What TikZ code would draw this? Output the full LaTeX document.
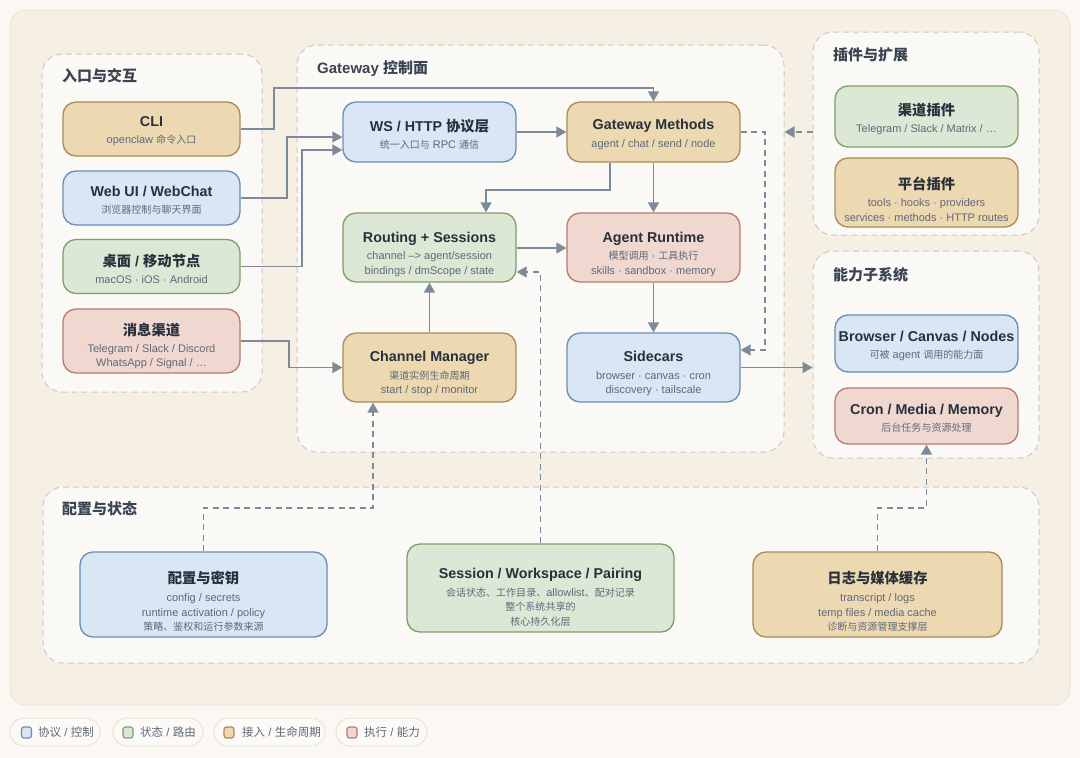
\documentclass[tikz,border=0pt]{standalone}
\usepackage{fontspec}
\setmainfont{Liberation Sans}
\newfontfamily\cjk{Noto Sans CJK SC}
\newfontfamily\cjks{Noto Sans CJK SC}[Scale=0.91]
\usetikzlibrary{arrows.meta}
\newcommand\zh[1]{{\cjk #1}}
\newcommand\zs[1]{{\cjks #1}}
\newcommand\ttl[1]{{\fontsize{14.3}{14.3}\selectfont\bfseries\color{ttlC}#1}}

\definecolor{pageBg}{HTML}{FBF8F3}
\definecolor{panelBg}{HTML}{F6EFE4}
\definecolor{panelLn}{HTML}{EDE5D9}
\definecolor{grpBg}{HTML}{FBF9F5}
\definecolor{grpLn}{HTML}{C9C9C7}
\definecolor{fBlue}{HTML}{D9E6F3}
\definecolor{lBlue}{HTML}{6B8DB5}
\definecolor{fGreen}{HTML}{DCE8D5}
\definecolor{lGreen}{HTML}{7C9F6B}
\definecolor{fTan}{HTML}{EDD9B1}
\definecolor{lTan}{HTML}{A88B57}
\definecolor{fRed}{HTML}{F0D8D1}
\definecolor{lRed}{HTML}{B67B6C}
\definecolor{arrC}{HTML}{7D8A99}
\definecolor{ttlC}{HTML}{27303C}
\definecolor{subC}{HTML}{5F6978}
\definecolor{grpT}{HTML}{3B4452}
\definecolor{pillBg}{HTML}{FCFAF6}
\definecolor{pillLn}{HTML}{EAE3D8}

\tikzset{
  box/.style={rectangle, rounded corners=13pt, line width=1.3pt, inner sep=0pt},
  bluebox/.style={box, draw=lBlue, fill=fBlue},
  greenbox/.style={box, draw=lGreen, fill=fGreen},
  tanbox/.style={box, draw=lTan, fill=fTan},
  redbox/.style={box, draw=lRed, fill=fRed},
  grp/.style={rectangle, draw=grpLn, fill=grpBg, line width=1pt,
    dash pattern=on 6pt off 4pt, rounded corners=20pt, inner sep=0pt},
  gtitle/.style={anchor=west, inner sep=0pt, text=grpT,
    font=\fontsize{15}{15}\selectfont\bfseries},
  txt/.style={align=center, inner sep=0pt, text=subC,
    font=\fontsize{11}{14.5}\selectfont},
  arr/.style={draw=arrC, line width=1.4pt, -{Triangle[length=10pt,width=11pt]}},
  darr/.style={arr, dash pattern=on 6pt off 4.5pt},
  pill/.style={rectangle, rounded corners=14pt, draw=pillLn, fill=pillBg,
    line width=1pt, inner sep=0pt, minimum height=28pt},
  icon/.style={rectangle, rounded corners=2.5pt, line width=1.2pt,
    minimum width=10pt, minimum height=11pt, inner sep=0pt},
  legtxt/.style={anchor=west, inner sep=0pt, text=subC,
    font=\fontsize{11.5}{11.5}\selectfont},
}

\begin{document}
\begin{tikzpicture}[x=1pt,y=-1pt]
\fill[pageBg] (0,0) rectangle (1080,758);
\useasboundingbox (0,0) rectangle (1080,758);

% outer panel
\node[rectangle, rounded corners=16pt, draw=panelLn, fill=panelBg, line width=1pt,
      inner sep=0pt, minimum width=1060pt, minimum height=695pt] (panel) at (540,357.5) {};

% groups
\node[grp, minimum width=220pt, minimum height=338pt] (entry) at (152,223) {};
\node[gtitle] (entry-t) at (62,76) {\zh{入口与交互}};
\node[grp, minimum width=487pt, minimum height=407pt] (gw) at (540.5,248.5) {};
\node[gtitle] (gw-t) at (317,69) {Gateway \zh{控制面}};
\node[grp, minimum width=226pt, minimum height=203pt] (plg) at (926,133.5) {};
\node[gtitle] (plg-t) at (833,55) {\zh{插件与扩展}};
\node[grp, minimum width=226pt, minimum height=207pt] (cap) at (926,354.5) {};
\node[gtitle] (cap-t) at (833,275) {\zh{能力子系统}};
\node[grp, minimum width=996pt, minimum height=176pt] (store) at (541,575) {};
\node[gtitle] (store-t) at (62,509) {\zh{配置与状态}};

% entry points
\node[tanbox, minimum width=177pt, minimum height=54pt] (cli) at (151.5,129) {};
\node[txt] (cli-t) at ([yshift=-2.5pt]cli.center) {\ttl{CLI}\\[2.5pt]openclaw \zs{命令入口}};
\node[bluebox, minimum width=177pt, minimum height=54pt] (web) at (151.5,198) {};
\node[txt] (web-t) at ([yshift=-2.5pt]web.center) {\ttl{Web UI / WebChat}\\[2.5pt]\zs{浏览器控制与聊天界面}};
\node[greenbox, minimum width=177pt, minimum height=54pt] (desk) at (151.5,266.5) {};
\node[txt] (desk-t) at ([yshift=-2.5pt]desk.center) {\ttl{\zh{桌面} / \zh{移动节点}}\\[2.5pt]macOS · iOS · Android};
\node[redbox, minimum width=177pt, minimum height=64pt] (msg) at (151.5,341) {};
\node[txt] (msg-t) at ([yshift=-5pt]msg.center) {\ttl{\zh{消息渠道}}\\[2.5pt]Telegram / Slack / Discord\\WhatsApp / Signal / …};

% gateway control plane
\node[bluebox, minimum width=173pt, minimum height=60pt] (ws) at (429.5,132) {};
\node[txt] (ws-t) at ([yshift=-2.5pt]ws.center) {\ttl{WS / HTTP \zh{协议层}}\\[3pt]\zs{统一入口与} RPC \zs{通信}};
\node[tanbox, minimum width=173pt, minimum height=60pt] (gm) at (653.5,132) {};
\node[txt] (gm-t) at ([yshift=-2.5pt]gm.center) {\ttl{Gateway Methods}\\[3pt]agent / chat / send / node};
\node[greenbox, minimum width=173pt, minimum height=69pt] (rs) at (429.5,247.5) {};
\node[txt] (rs-t) at ([yshift=-6.5pt]rs.center) {\ttl{Routing + Sessions}\\[3pt]channel –> agent/session\\bindings / dmScope / state};
\node[redbox, minimum width=173pt, minimum height=69pt] (ar) at (653.5,247.5) {};
\node[txt] (ar-t) at ([yshift=-6.5pt]ar.center) {\ttl{Agent Runtime}\\[3pt]\zs{模型调用} · \zs{工具执行}\\skills · sandbox · memory};
\node[tanbox, minimum width=173pt, minimum height=69pt] (cm) at (429.5,367.5) {};
\node[txt] (cm-t) at ([yshift=-6pt]cm.center) {\ttl{Channel Manager}\\[3pt]\zs{渠道实例生命周期}\\start / stop / monitor};
\node[bluebox, minimum width=173pt, minimum height=69pt] (sc) at (653.5,367.5) {};
\node[txt] (sc-t) at ([yshift=-6pt]sc.center) {\ttl{Sidecars}\\[3pt]browser · canvas · cron\\discovery · tailscale};

% plugins
\node[greenbox, minimum width=183pt, minimum height=61pt] (cp) at (926.5,116.5) {};
\node[txt] (cp-t) at ([yshift=-2.5pt]cp.center) {\ttl{\zh{渠道插件}}\\[2.5pt]Telegram / Slack / Matrix / …};
\node[tanbox, minimum width=183pt, minimum height=69pt] (pp) at (926.5,192.5) {};
\node[txt] (pp-t) at ([yshift=-6.5pt]pp.center) {\ttl{\zh{平台插件}}\\[3pt]tools · hooks · providers\\services · methods · HTTP routes};

% capability subsystems
\node[bluebox, minimum width=183pt, minimum height=57pt] (bcn) at (926.5,343.5) {};
\node[txt] (bcn-t) at ([yshift=-2pt]bcn.center) {\ttl{Browser / Canvas / Nodes}\\[2.5pt]\zs{可被} agent \zs{调用的能力面}};
\node[redbox, minimum width=183pt, minimum height=56pt] (cron) at (926.5,416) {};
\node[txt] (cron-t) at ([yshift=-2pt]cron.center) {\ttl{Cron / Media / Memory}\\[2.5pt]\zs{后台任务与资源处理}};

% configuration and state
\node[bluebox, minimum width=247pt, minimum height=85pt] (cfg) at (203.5,594.5) {};
\node[txt] (cfg-t) at ([yshift=-7pt]cfg.center) {\ttl{\zh{配置与密钥}}\\[3.5pt]config / secrets\\runtime activation / policy\\\zs{策略、鉴权和运行参数来源}};
\node[greenbox, minimum width=267pt, minimum height=88pt] (sess) at (540.5,588) {};
\node[txt] (sess-t) at ([yshift=-9pt]sess.center) {\ttl{Session / Workspace / Pairing}\\[3.5pt]\zs{会话状态、工作目录、}allowlist\zs{、配对记录}\\\zs{整个系统共享的}\\\zs{核心持久化层}};
\node[tanbox, minimum width=249pt, minimum height=85pt] (log) at (877.5,594.5) {};
\node[txt] (log-t) at ([yshift=-7pt]log.center) {\ttl{\zh{日志与媒体缓存}}\\[3.5pt]transcript / logs\\temp files / media cache\\\zs{诊断与资源管理支撑层}};

% solid connectors
\draw[arr] (cli.east) -| (274,88) -| (gm.north);
\draw[arr] (web.east) -| (287,137) -- (ws.west |- 0,137);
\draw[arr] (desk.east) -| (302,150) -- (ws.west |- 0,150);
\draw[arr] (msg.east) -| (289,367.5) -- (cm.west);
\draw[arr] (ws.east) -- (gm.west);
\draw[arr] (gm.south -| 610,0) |- (486,190) -- (rs.north -| 486,0);
\draw[arr] (gm.south) -- (ar.north);
\draw[arr] (rs.east |- 0,248) -- (ar.west |- 0,248);
\draw[arr] (cm.north) -- (rs.south);
\draw[arr] (ar.south) -- (sc.north);
\draw[arr] (sc.east) -- (cap.west |- sc.east);

% dashed connectors
\draw[darr] (plg.west |- gm.east) -- (gw.east |- gm.east);
\draw[darr] (gm.east) -| (765,350) -- (sc.east |- 0,350);
\draw[darr] (sess.north) |- (rs.east |- 0,272);
\draw[darr] (cfg.north) |- (373,508) -- (cm.south -| 373,0);
\draw[darr] (log.north) |- (cron.south |- 0,508) -- (cron.south);

% legend
\node[pill, minimum width=90pt] (lg1) at (55,732) {};
\node[icon, fill=fBlue, draw=lBlue] (lg1-i) at (26.5,732.5) {};
\node[legtxt] (lg1-t) at (38,732) {\zh{协议} / \zh{控制}};
\node[pill, minimum width=90pt] (lg2) at (158,732) {};
\node[icon, fill=fGreen, draw=lGreen] (lg2-i) at (128,732.5) {};
\node[legtxt] (lg2-t) at (140,732) {\zh{状态} / \zh{路由}};
\node[pill, minimum width=111pt] (lg3) at (269.5,732) {};
\node[icon, fill=fTan, draw=lTan] (lg3-i) at (229,732.5) {};
\node[legtxt] (lg3-t) at (242,732) {\zh{接入} / \zh{生命周期}};
\node[pill, minimum width=91pt] (lg4) at (381.5,732) {};
\node[icon, fill=fRed, draw=lRed] (lg4-i) at (352,732.5) {};
\node[legtxt] (lg4-t) at (364,732) {\zh{执行} / \zh{能力}};
\end{tikzpicture}
\end{document}
